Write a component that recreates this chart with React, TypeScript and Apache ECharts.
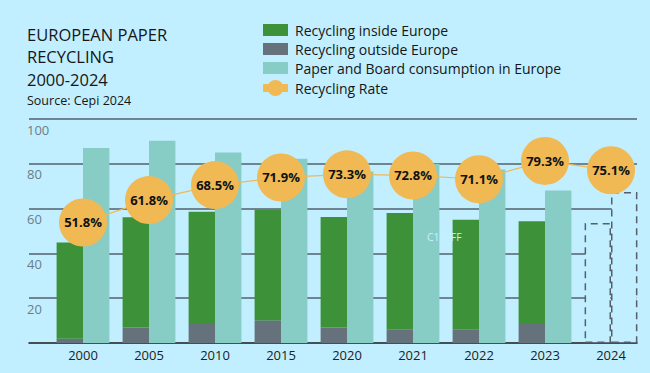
import React, { useEffect, useRef } from "react";
import * as echarts from "echarts";

const categories = ["2000", "2005", "2010", "2015", "2020", "2021", "2022", "2023", "2024"];
const outsideEurope = [1.9, 7.0, 8.5, 10.1, 7.0, 5.9, 5.9, 8.5, null];
const insideEurope = [43.0, 49.1, 50.1, 49.4, 49.3, 52.1, 49.1, 45.8, 53.6];
const consumption = [87.0, 90.3, 85.1, 82.3, 76.6, 79.9, 77.4, 68.1, 67.4];
const recyclingRate = [51.8, 61.8, 68.5, 71.9, 73.3, 72.8, 71.1, 79.3, 75.1];
const placeholderYears = ["2024"];

const BG = "#C1EFFF";
const GREEN = "#3D9138";
const GRAY = "#65727B";
const TEAL = "#88CCC6";
const ORANGE = "#F0B954";
const FONT = "'Open Sans', 'Noto Sans', sans-serif";

const dashedStyle = {
  color: BG,
  borderColor: "#55606a",
  borderWidth: 1.5,
  borderType: [7, 5],
};

function withPlaceholders(values: (number | null)[]) {
  return values.map((v, i) => {
    if (v === null) return "-";
    if (placeholderYears.includes(categories[i])) return { value: v, itemStyle: dashedStyle };
    return v;
  });
}

export default function App() {
  const ref = useRef<HTMLDivElement>(null);
  useEffect(() => {
    document.body.style.margin = "0";
    document.body.style.background = BG;
    const chart = echarts.init(ref.current!, null, { renderer: "svg" });
    chart.setOption({
      animation: false,
      backgroundColor: BG,
      textStyle: { fontFamily: FONT },
      title: {
        text: "EUROPEAN PAPER\nRECYCLING\n2000-2024",
        subtext: "Source: Cepi 2024",
        left: 27,
        top: 23,
        itemGap: 3,
        padding: 0,
        textStyle: { fontFamily: FONT, fontSize: 16.5, lineHeight: 22.5, fontWeight: "normal", color: "#161616" },
        subtextStyle: { fontFamily: FONT, fontSize: 12.5, lineHeight: 14, color: "#161616" },
      },
      legend: [
        {
          orient: "vertical",
          left: 263,
          top: 23,
          padding: 0,
          itemWidth: 25,
          itemHeight: 12,
          itemGap: 5,
          icon: "rect",
          textStyle: { fontFamily: FONT, fontSize: 14, lineHeight: 12, color: "#161616", padding: [0, 0, 0, 2] },
          data: ["Recycling inside Europe", "Recycling outside Europe", "Paper and Board consumption in Europe"],
        },
        {
          orient: "vertical",
          left: 263,
          top: 80,
          padding: 0,
          itemWidth: 25,
          itemHeight: 16,
          textStyle: { fontFamily: FONT, fontSize: 14, lineHeight: 16, color: "#161616", padding: [0, 0, 0, 2] },
          data: [
            {
              name: "Recycling Rate",
              icon: "path://M0,4h25v8h-25zM4.5,8a8,8 0 1,1 16,0a8,8 0 1,1 -16,0z",
            },
          ],
        },
      ],
      grid: [
        { left: 29, right: 13, top: 119, bottom: 30 },
        { left: 50, right: 6, top: 119, bottom: 30 },
      ],
      xAxis: [
        {
          type: "category",
          gridIndex: 0,
          data: categories,
          axisLine: { show: true, lineStyle: { color: "#1a1a1a", width: 1.5 } },
          axisTick: { show: false },
          axisLabel: { show: false },
        },
        {
          type: "category",
          gridIndex: 1,
          data: categories,
          axisLine: { show: false },
          axisTick: { show: false },
          axisLabel: { margin: 5, fontFamily: FONT, fontSize: 13, color: "#222" },
        },
      ],
      yAxis: [
        {
          type: "value",
          gridIndex: 0,
          min: 0,
          max: 100,
          interval: 20,
          axisLine: { show: false },
          axisTick: { show: false },
          splitLine: { show: true, showMinLine: false, lineStyle: { color: "#6E8591", width: 2 } },
          axisLabel: {
            inside: true,
            margin: -2,
            showMinLabel: false,
            verticalAlign: "top",
            padding: [4, 0, 0, 0],
            fontFamily: FONT,
            fontSize: 13,
            color: "#6D7C85",
          },
        },
        { type: "value", gridIndex: 1, min: 0, max: 100, show: false },
        { type: "value", gridIndex: 1, min: -2, max: 98, show: false },
      ],
      series: [
        {
          name: "Recycling outside Europe",
          type: "bar",
          xAxisIndex: 1,
          yAxisIndex: 1,
          stack: "rec",
          barCategoryGap: "20%",
          barGap: "0%",
          itemStyle: { color: GRAY },
          data: withPlaceholders(outsideEurope),
        },
        {
          name: "Recycling inside Europe",
          type: "bar",
          xAxisIndex: 1,
          yAxisIndex: 1,
          stack: "rec",
          barCategoryGap: "20%",
          barGap: "0%",
          itemStyle: { color: GREEN },
          data: withPlaceholders(insideEurope),
        },
        {
          name: "Paper and Board consumption in Europe",
          type: "bar",
          xAxisIndex: 1,
          yAxisIndex: 1,
          barCategoryGap: "20%",
          barGap: "0%",
          itemStyle: { color: TEAL },
          data: withPlaceholders(consumption),
        },
        {
          name: "Recycling Rate",
          type: "line",
          xAxisIndex: 1,
          yAxisIndex: 2,
          z: 5,
          symbol: "circle",
          symbolSize: 48,
          itemStyle: { color: ORANGE },
          lineStyle: { color: ORANGE, width: 1.2 },
          label: {
            show: true,
            position: "inside",
            formatter: "{c}%",
            fontFamily: FONT,
            fontWeight: "bold",
            fontSize: 13,
            color: "#111",
          },
          data: recyclingRate,
        },
      ],
      graphic: [
        {
          type: "text",
          z: 4,
          left: 427,
          top: 231,
          style: { text: "C1EFFF", fontFamily: FONT, fontSize: 10.5, fill: "#C6F1FF" },
        },
      ],
    });
    return () => chart.dispose();
  }, []);
  return <div ref={ref} style={{ position: "absolute", left: 0, top: 0, width: 650, height: 373 }} />;
}
